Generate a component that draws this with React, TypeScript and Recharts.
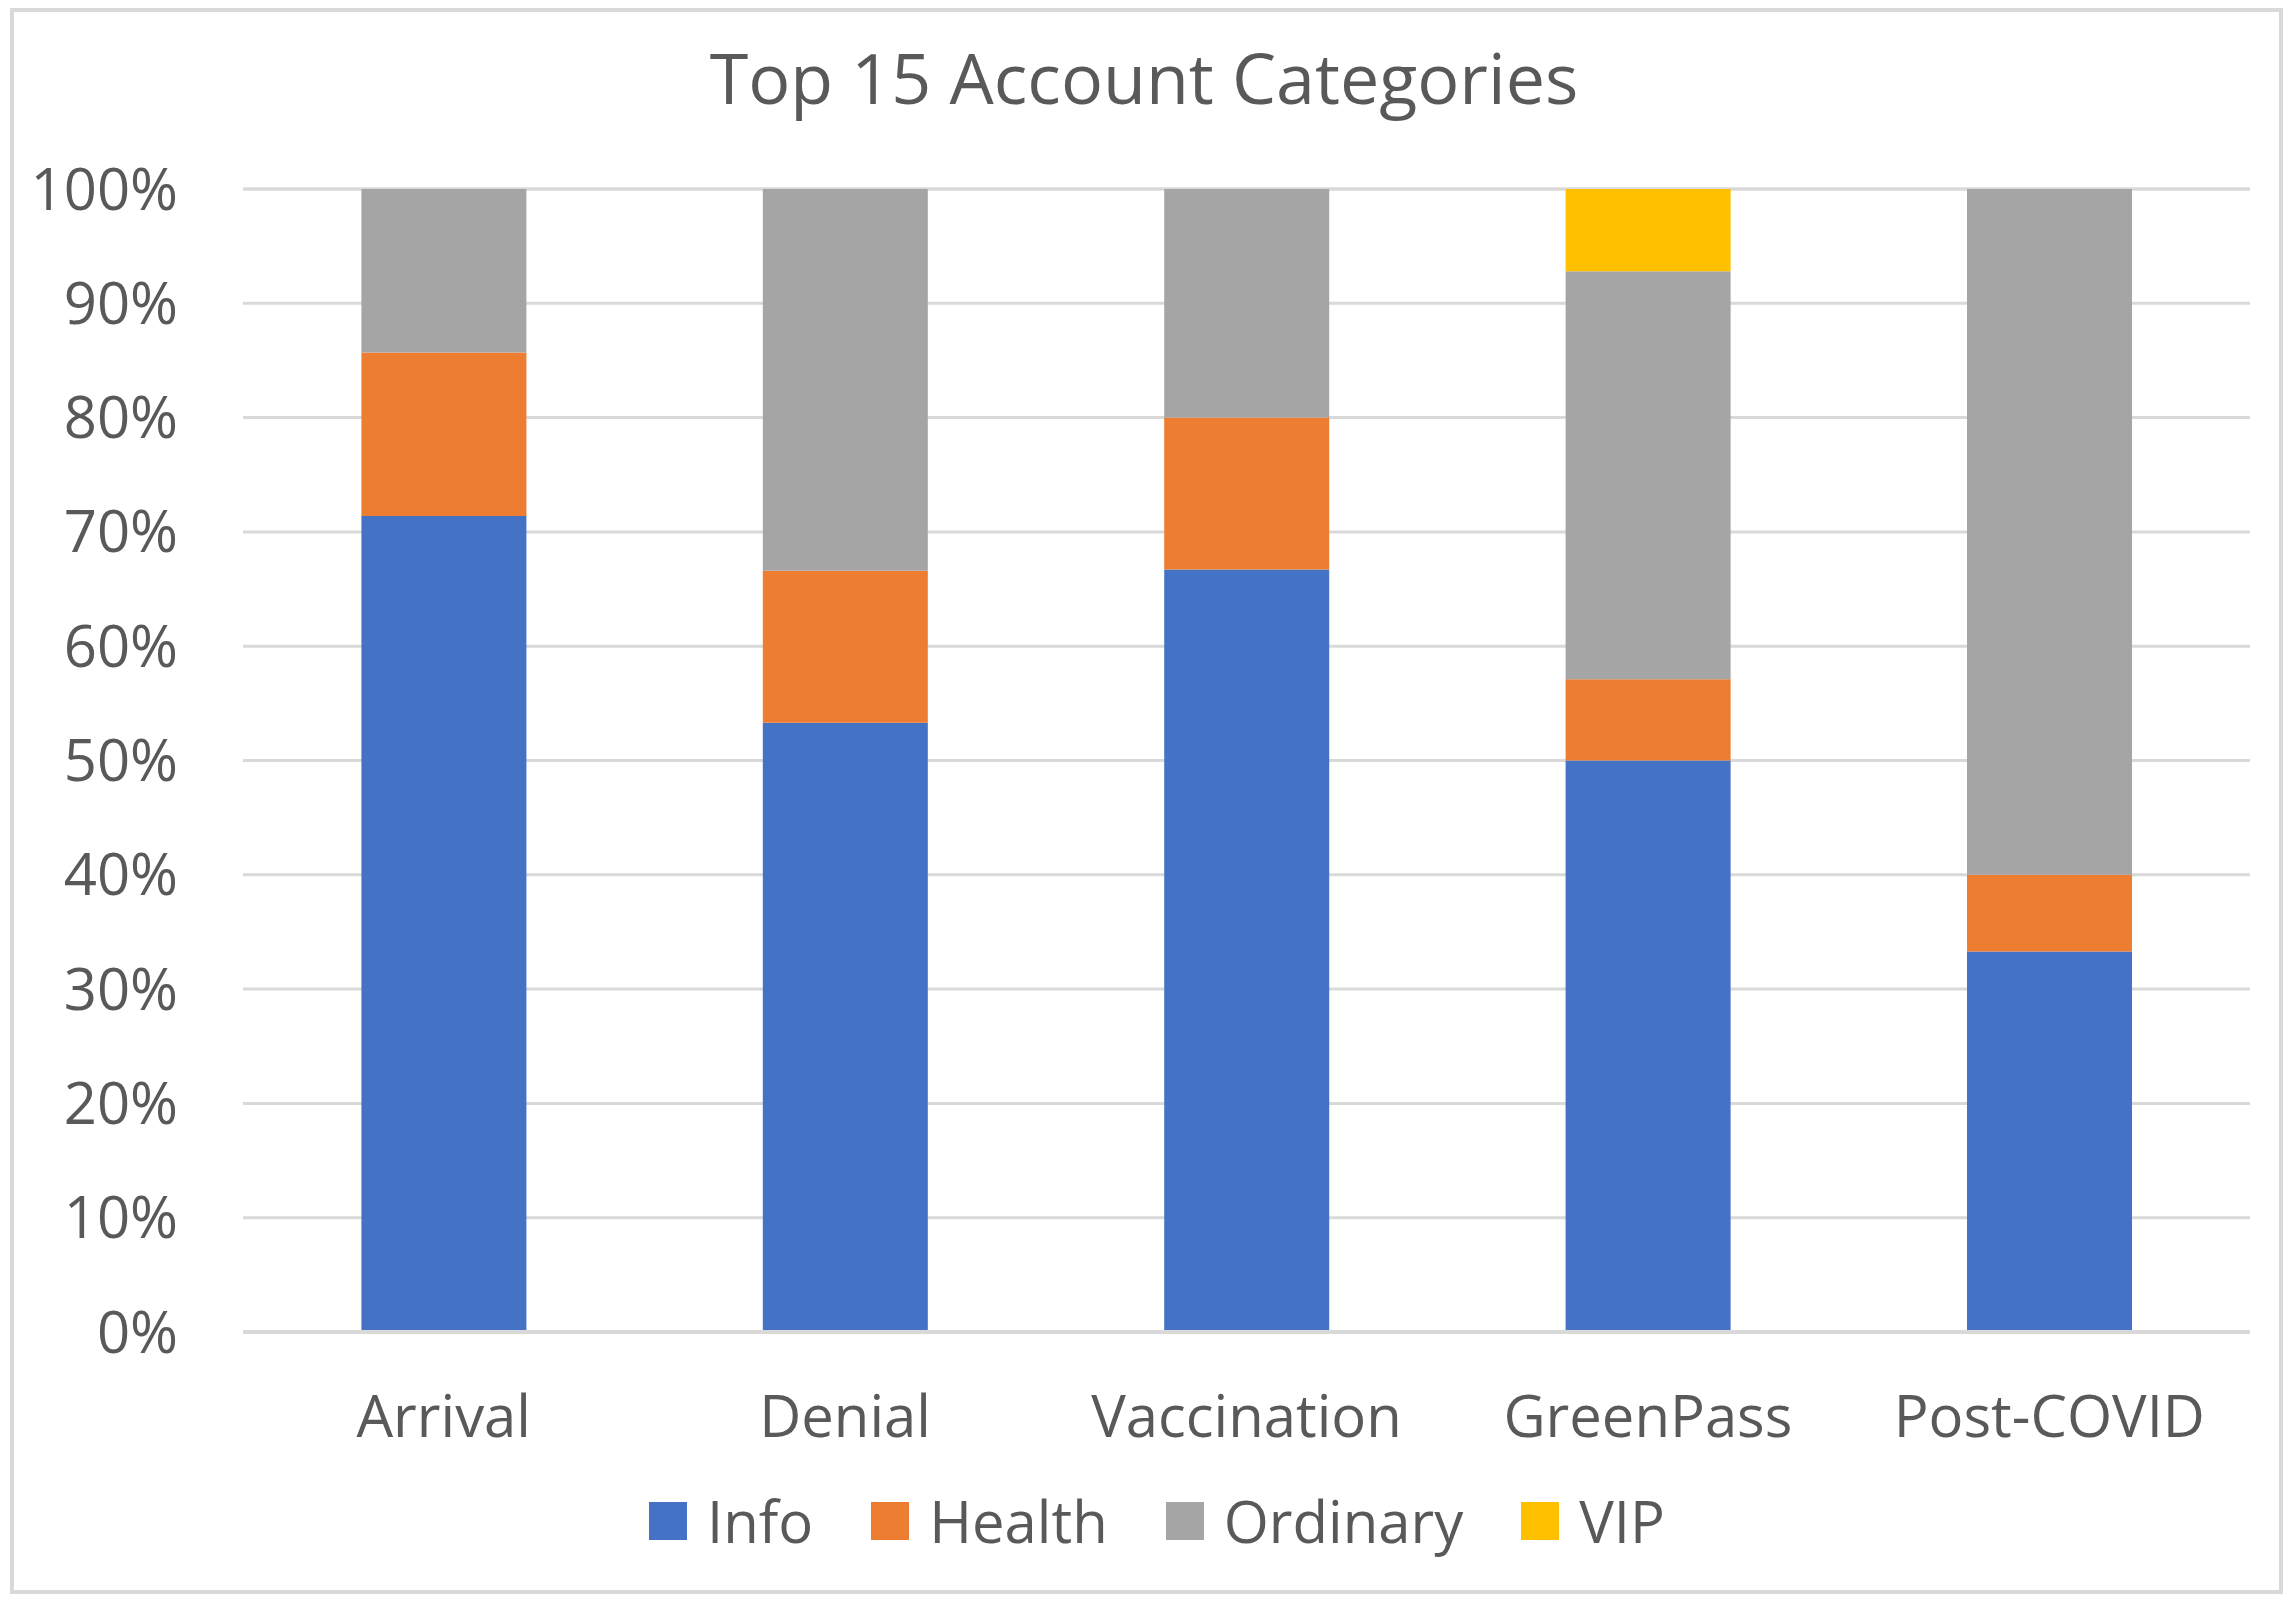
import React from 'react'
import { BarChart, Bar, XAxis, YAxis, CartesianGrid } from 'recharts'

const categories = ['Arrival', 'Denial', 'Vaccination', 'GreenPass', 'Post-COVID']
const info = [71.4, 53.3, 66.7, 50.0, 33.3]
const health = [14.3, 13.3, 13.3, 7.1, 6.7]
const ordinary = [14.3, 33.4, 20.0, 35.7, 60.0]
const vip = [0, 0, 0, 7.2, 0]
const yTicks = [0, 10, 20, 30, 40, 50, 60, 70, 80, 90, 100]

const series = [
  { key: 'Info', color: '#4472c4' },
  { key: 'Health', color: '#ed7d31' },
  { key: 'Ordinary', color: '#a5a5a5' },
  { key: 'VIP', color: '#ffc000' },
]

const data = categories.map((name, i) => ({
  name,
  Info: info[i],
  Health: health[i],
  Ordinary: ordinary[i],
  VIP: vip[i],
}))

const font = '"Open Sans", sans-serif'
const textColor = '#595959'

export default function App() {
  return (
    <div
      style={{
        position: 'absolute',
        left: 0,
        top: 0,
        width: 2294,
        height: 1608,
        background: '#fff',
        fontFamily: font,
      }}
    >
      {/* chart border */}
      <div
        style={{
          position: 'absolute',
          left: 10,
          top: 8,
          width: 2273,
          height: 1586,
          border: '4px solid #d9d9d9',
          boxSizing: 'border-box',
        }}
      />
      <div
        style={{
          position: 'absolute',
          left: 0,
          top: 42,
          width: 2288,
          textAlign: 'center',
          fontSize: 70,
          lineHeight: '70px',
          color: textColor,
        }}
      >
        Top 15 Account Categories
      </div>
      <div style={{ position: 'absolute', left: 0, top: 0 }}>
        <BarChart
          width={2294}
          height={1608}
          data={data}
          margin={{ top: 189, right: 44, left: 0, bottom: 176 }}
          barCategoryGap="29.5%"
        >
          <CartesianGrid vertical={false} stroke="#d9d9d9" strokeWidth={3} />
          <XAxis
            dataKey="name"
            height={100}
            tickLine={false}
            axisLine={{ stroke: '#d9d9d9', strokeWidth: 4 }}
            tickMargin={58}
            interval={0}
            tick={{ fill: textColor, fontSize: 58, fontFamily: font }}
          />
          <YAxis
            width={243}
            domain={[0, 100]}
            ticks={yTicks}
            interval={0}
            tickFormatter={(v) => `${v}%`}
            axisLine={false}
            tickLine={false}
            tickMargin={59}
            tick={{ fill: textColor, fontSize: 58, fontFamily: font }}
          />
          {series.map((s) => (
            <Bar
              key={s.key}
              dataKey={s.key}
              stackId="a"
              fill={s.color}
              isAnimationActive={false}
            />
          ))}
        </BarChart>
      </div>
      {/* legend */}
      <div
        style={{
          position: 'absolute',
          left: 20,
          top: 1486,
          width: 2274,
          display: 'flex',
          justifyContent: 'center',
          alignItems: 'center',
          fontSize: 58,
          lineHeight: '70px',
          color: textColor,
        }}
      >
        {series.map((s, i) => (
          <div
            key={s.key}
            style={{
              display: 'flex',
              alignItems: 'center',
              marginRight: i < series.length - 1 ? 58 : 0,
            }}
          >
            <div
              style={{
                width: 38,
                height: 38,
                background: s.color,
                marginRight: 20,
              }}
            />
            <span>{s.key}</span>
          </div>
        ))}
      </div>
    </div>
  )
}
